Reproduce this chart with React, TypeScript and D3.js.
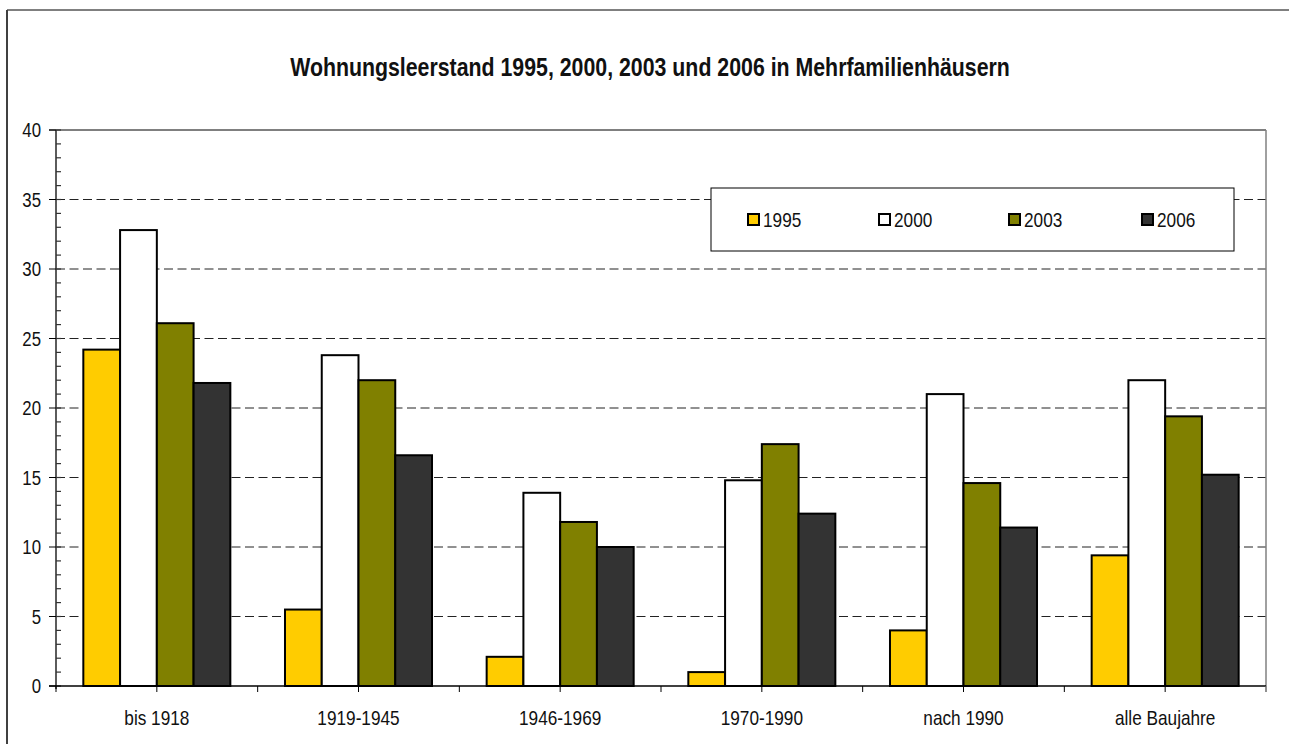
import React from "react";
import * as d3 from "d3";

const categories = ["bis 1918", "1919-1945", "1946-1969", "1970-1990", "nach 1990", "alle Baujahre"];
const seriesNames = ["1995", "2000", "2003", "2006"];
const values1995 = [24.2, 5.5, 2.1, 1.0, 4.0, 9.4];
const values2000 = [32.8, 23.8, 13.9, 14.8, 21.0, 22.0];
const values2003 = [26.1, 22.0, 11.8, 17.4, 14.6, 19.4];
const values2006 = [21.8, 16.6, 10.0, 12.4, 11.4, 15.2];
const seriesColors = ["#FFCC00", "#FFFFFF", "#808000", "#333333"];
const yTicks = [0, 5, 10, 15, 20, 25, 30, 35, 40];
const title = "Wohnungsleerstand 1995, 2000, 2003 und 2006 in Mehrfamilienhäusern";

const FONT = "'Liberation Sans', Arial, sans-serif";
const NARROW = 0.82;

function NText(props: { x: number; y: number; anchor?: string; size: number; bold?: boolean; children: React.ReactNode }) {
  return (
    <g transform={`translate(${props.x},${props.y}) scale(${NARROW},1)`}>
      <text
        x={0}
        y={0}
        textAnchor={props.anchor || "start"}
        fontFamily={FONT}
        fontSize={props.size}
        fontWeight={props.bold ? "bold" : "normal"}
        fill="#111"
      >
        {props.children}
      </text>
    </g>
  );
}

export default function App() {
  const W = 1289, H = 744;
  const left = 56, right = 1266, top = 130, bottom = 686;
  const allSeries = [values1995, values2000, values2003, values2006];

  const x0 = d3.scaleBand<string>().domain(categories).range([left, right]).padding(0);
  const bw = x0.bandwidth();
  const groupW = bw * 0.729;
  const x1 = d3.scaleBand<string>().domain(seriesNames).range([(bw - groupW) / 2, (bw + groupW) / 2]).padding(0);
  const y = d3.scaleLinear().domain([0, 40]).range([bottom, top]);
  const minor = d3.range(0, 41, 1);
  const halfTicks = d3.range(0, categories.length * 2 + 1).map((i) => left + (i * bw) / 2);

  const legendX = 711, legendY = 188, legendW = 523, legendH = 63;
  const legendSwatchX = [748, 879, 1009, 1142];

  return (
    <svg width={W} height={H} style={{ position: "absolute", left: 0, top: 0, background: "#fff" }}>
      <rect x={0} y={0} width={W} height={H} fill="#fff" />
      {/* outer chart border */}
      <line x1={7} y1={10} x2={W + 5} y2={10} stroke="#000" strokeWidth={1} />
      <line x1={7} y1={10} x2={7} y2={H + 5} stroke="#404040" strokeWidth={2} />

      {/* title */}
      <NText x={650} y={76} anchor="middle" size={26} bold>
        {title}
      </NText>

      {/* gridlines */}
      {yTicks.filter((t) => t > 0 && t < 40).map((t) => (
        <line key={"g" + t} x1={left} x2={right} y1={y(t)} y2={y(t)} stroke="#222" strokeWidth={1} strokeDasharray="9,4.5" />
      ))}
      {/* top border of plot */}
      <line x1={left - 7} x2={right} y1={y(40)} y2={y(40)} stroke="#000" strokeWidth={1} />
      {/* right border of plot */}
      <line x1={right} x2={right} y1={y(40)} y2={bottom + 6} stroke="#808080" strokeWidth={1.5} />

      {/* bars */}
      {categories.map((c, ci) => (
        <g key={c} transform={`translate(${x0(c)},0)`}>
          {seriesNames.map((s, si) => {
            const v = allSeries[si][ci];
            return (
              <rect
                key={s}
                x={x1(s)}
                y={y(v)}
                width={x1.bandwidth()}
                height={y(0) - y(v)}
                fill={seriesColors[si]}
                stroke="#000"
                strokeWidth={2}
              />
            );
          })}
        </g>
      ))}

      {/* y axis */}
      <line x1={left} x2={left} y1={top} y2={bottom + 3} stroke="#333" strokeWidth={1.6} />
      {minor.map((t) => (
        <line key={"m" + t} x1={left} x2={left + 5} y1={y(t)} y2={y(t)} stroke="#333" strokeWidth={1.2} />
      ))}
      {yTicks.map((t) => (
        <g key={"yt" + t}>
          <line x1={left - 7} x2={left} y1={y(t)} y2={y(t)} stroke="#000" strokeWidth={1} />
          <NText x={41} y={y(t) + 7} anchor="end" size={20.5}>
            {t}
          </NText>
        </g>
      ))}

      {/* x axis */}
      <line x1={left - 7} x2={right} y1={bottom} y2={bottom} stroke="#000" strokeWidth={1.5} />
      {halfTicks.map((tx, i) => (
        <line key={"xt" + i} x1={tx} x2={tx} y1={bottom} y2={bottom + 6} stroke={i === halfTicks.length - 1 ? "#808080" : "#000"} strokeWidth={1} />
      ))}
      {categories.map((c) => (
        <NText key={"xl" + c} x={(x0(c) as number) + bw / 2} y={725} anchor="middle" size={21}>
          {c}
        </NText>
      ))}

      {/* legend */}
      <rect x={legendX} y={legendY} width={legendW} height={legendH} fill="#fff" stroke="#000" strokeWidth={1} />
      {seriesNames.map((s, si) => (
        <g key={"lg" + s}>
          <rect x={legendSwatchX[si]} y={214} width={11} height={11} fill={seriesColors[si]} stroke="#000" strokeWidth={2} />
          <NText x={legendSwatchX[si] + 15} y={227} size={21}>
            {s}
          </NText>
        </g>
      ))}
    </svg>
  );
}
